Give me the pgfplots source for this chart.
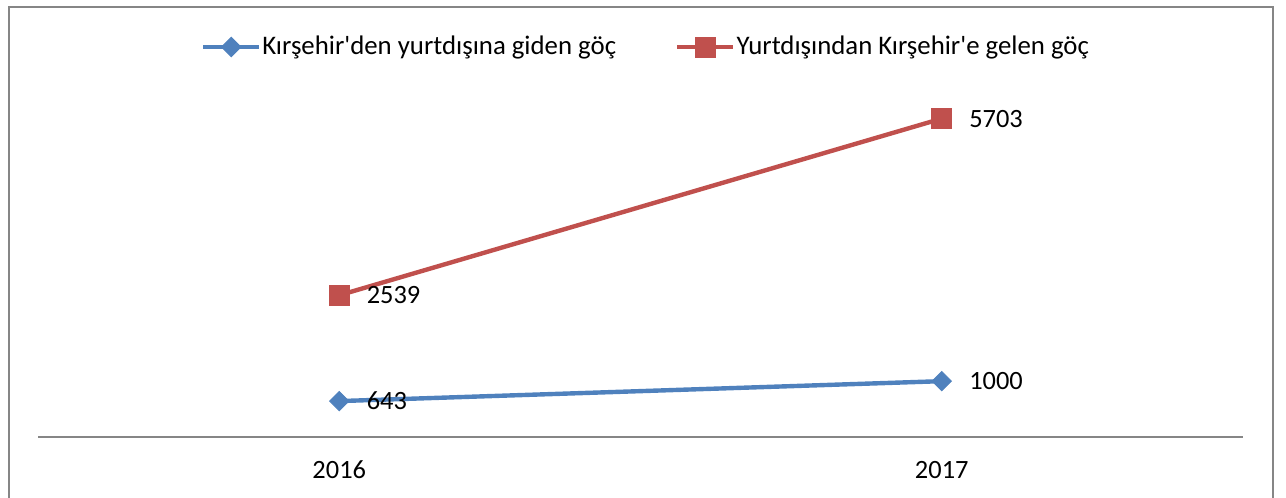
\documentclass[border=0pt]{standalone}
\usepackage{fontspec}
\setmainfont{Carlito}
\usepackage{pgfplots}
\pgfplotsset{compat=1.18}
\definecolor{exblue}{HTML}{4F81BD}
\definecolor{exred}{HTML}{C0504D}
\definecolor{exgray}{HTML}{868686}
\begin{document}
\begin{tikzpicture}
\useasboundingbox (0,0) rectangle (643pt,249pt);
\draw[exgray, line width=0.8pt] (4.5pt,-10pt) rectangle (636.5pt,245.5pt);
\begin{axis}[
  at={(19pt,30.5pt)}, anchor=south west,
  scale only axis, width=602.5pt, height=167.5pt,
  xmin=-0.5, xmax=1.5, ymin=0, ymax=6000,
  axis lines*=left,
  y axis line style={draw=none},
  x axis line style={draw=exgray, line width=0.75pt},
  ytick=\empty,
  xtick={0,1}, xticklabels={2016,2017},
  major tick length=0pt,
  xticklabel style={anchor=center, yshift=-16.5pt},
  /pgf/number format/assume math mode=true,
  font=\fontsize{13.2}{15}\selectfont,
  clip=false,
  point meta=explicit symbolic,
  nodes near coords,
  nodes near coords style={anchor=west, inner sep=0pt, xshift=13.5pt, font=\fontsize{13.2}{15}\selectfont, text=black},
  legend columns=-1,
  legend style={draw=none, fill=none, at={(axis description cs:0.5,1)}, anchor=center,
    yshift=27.5pt, xshift=2.5pt, font=\fontsize{13.4}{15}\selectfont,
    nodes={inner sep=0.5pt},
    /tikz/every even column/.append style={column sep=29pt}},
  legend image code/.code={\draw[#1, mark repeat=2, mark phase=2] plot coordinates {(0pt,0pt)(14pt,0pt)(28pt,0pt)};},
]
\addplot[exblue, line width=2.2pt, mark=square*, mark size=3.4pt,
  mark options={rotate=45, line width=0.5pt, fill=exblue}]
  coordinates {(0,643)[643] (1,1000)[1000]};
\addplot[exred, line width=2.2pt, mark=square*, mark size=5pt,
  mark options={line width=0.5pt, fill=exred}]
  coordinates {(0,2539)[2539] (1,5703)[5703]};
\legend{Kırşehir\textquotesingle den yurtdışına giden göç, Yurtdışından Kırşehir\textquotesingle e gelen göç}
\end{axis}
\end{tikzpicture}
\end{document}
